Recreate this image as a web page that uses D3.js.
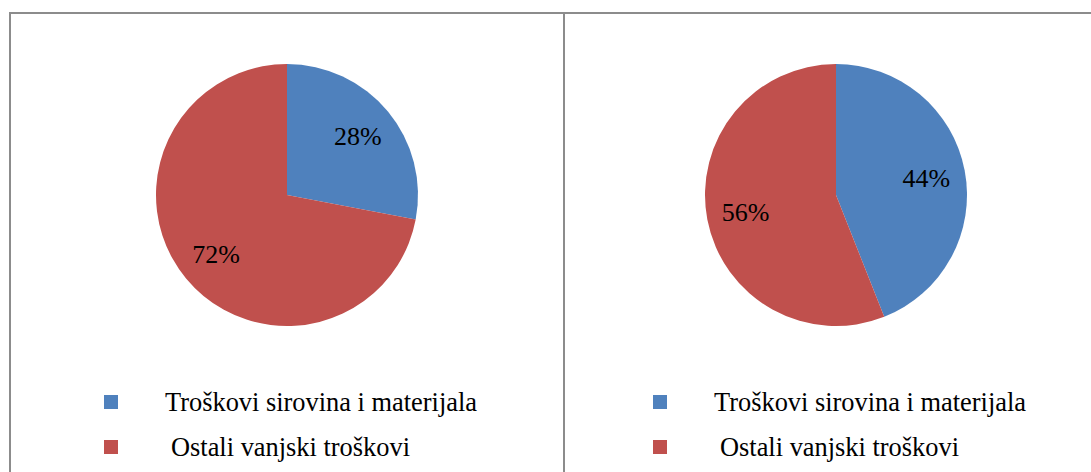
<!DOCTYPE html>
<html>
<head>
<meta charset="utf-8">
<script src="https://cdn.jsdelivr.net/npm/d3@7"></script>
<style>
  body { margin: 0; background: #fff; }
</style>
</head>
<body>
<div id="chart"></div>
<script>
// two pies, same categories
const categories = ['Troškovi sirovina i materijala', 'Ostali vanjski troškovi'];
const leftValues = [28, 72];
const rightValues = [44, 56];
const colors = ['#4f81bd', '#c0504d'];

const W = 1091;
const H = 472;
const panelW = 549;
const radius = 131;
const cy = 195;
const serif = '"Liberation Serif", "Times New Roman", Times, serif';

const svg = d3.select('#chart').
append('svg').
attr('width', W).
attr('height', H);

// table borders
const border = svg.append('g').
attr('stroke', '#8c8c8c').
attr('stroke-width', 2);

border.append('line').
attr('x1', 9).attr('y1', 13).attr('x2', W + 5).attr('y2', 13);
border.append('line').
attr('x1', 10).attr('y1', 12).attr('x2', 10).attr('y2', H + 5);
border.append('line').
attr('x1', 564).attr('y1', 12).attr('x2', 564).attr('y2', H + 5);

const pie = d3.pie().sort(null).value(d => d);
const arc = d3.arc().innerRadius(0).outerRadius(radius);
const labelArc = d3.arc().innerRadius(92).outerRadius(92);

function drawPanel(values, offsetX) {
  const g = svg.append('g').
  attr('transform', 'translate(' + offsetX + ',0)');

  const pieG = g.append('g').
  attr('transform', 'translate(287,' + cy + ')');

  const arcs = pie(values);

  pieG.selectAll('path').
  data(arcs).
  enter().
  append('path').
  attr('d', arc).
  style('fill', (d, i) => colors[i]);

  pieG.selectAll('text').
  data(arcs).
  enter().
  append('text').
  attr('transform', d => 'translate(' + labelArc.centroid(d) + ')').
  attr('text-anchor', 'middle').
  attr('dy', '0.35em').
  style('font-family', serif).
  style('font-size', '26px').
  style('fill', '#000').
  text(d => d.data + '%');

  const legend = g.append('g');

  const rows = legend.selectAll('g').
  data(categories).
  enter().
  append('g').
  attr('transform', (d, i) => 'translate(104,' + (395 + i * 45) + ')');

  rows.append('rect').
  attr('width', 14).
  attr('height', 14).
  style('fill', (d, i) => colors[i]);

  rows.append('text').
  attr('x', (d, i) => i === 0 ? 61 : 67).
  attr('y', 16).
  style('font-family', serif).
  style('font-size', '26.4px').
  style('fill', '#000').
  text(d => d);
}

drawPanel(leftValues, 0);
drawPanel(rightValues, panelW);
</script>
</body>
</html>
